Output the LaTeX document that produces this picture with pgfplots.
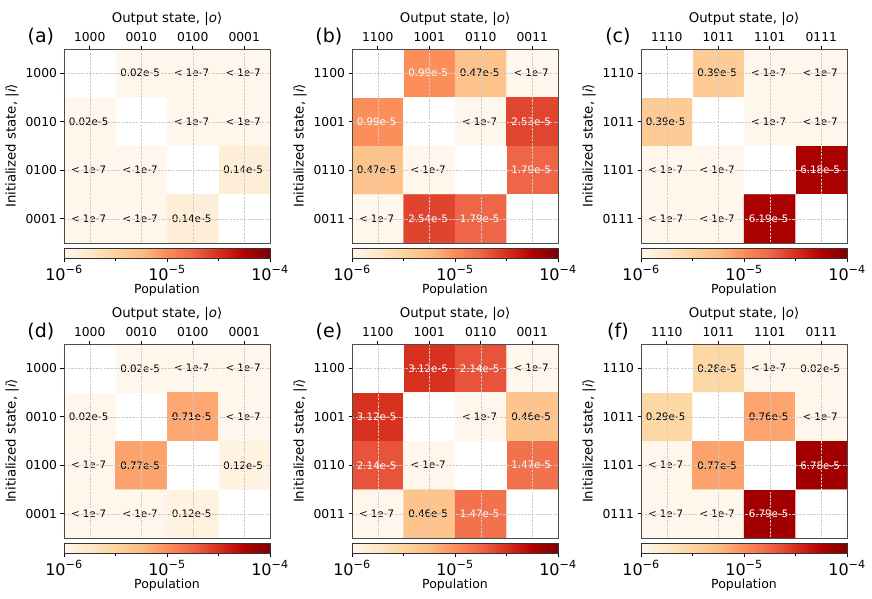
\documentclass[border=0pt]{standalone}
\usepackage{fontspec}
\setmainfont{DejaVu Sans}
\usepackage{pgfplots}
\pgfplotsset{compat=1.18}
\usepackage{pgfplotstable}

% columns: x = output state, y = initialized state, v = population,
% blk / wht = cell text set in black / white
\pgfplotstableread[col sep=comma]{
x,y,v,blk,wht
0,0,1e-7,,
1,0,0.02e-5,0.02e-5,
2,0,1e-7,< 1e-7,
3,0,1e-7,< 1e-7,
0,1,0.02e-5,0.02e-5,
1,1,1e-7,,
2,1,1e-7,< 1e-7,
3,1,1e-7,< 1e-7,
0,2,1e-7,< 1e-7,
1,2,1e-7,< 1e-7,
2,2,1e-7,,
3,2,0.14e-5,0.14e-5,
0,3,1e-7,< 1e-7,
1,3,1e-7,< 1e-7,
2,3,0.14e-5,0.14e-5,
3,3,1e-7,,
}\tabA

\pgfplotstableread[col sep=comma]{
x,y,v,blk,wht
0,0,1e-7,,
1,0,0.99e-5,,0.99e-5
2,0,0.47e-5,0.47e-5,
3,0,1e-7,< 1e-7,
0,1,0.99e-5,,0.99e-5
1,1,1e-7,,
2,1,1e-7,< 1e-7,
3,1,2.53e-5,,2.53e-5
0,2,0.47e-5,0.47e-5,
1,2,1e-7,< 1e-7,
2,2,1e-7,,
3,2,1.79e-5,,1.79e-5
0,3,1e-7,< 1e-7,
1,3,2.54e-5,,2.54e-5
2,3,1.79e-5,,1.79e-5
3,3,1e-7,,
}\tabB

\pgfplotstableread[col sep=comma]{
x,y,v,blk,wht
0,0,1e-7,,
1,0,0.39e-5,0.39e-5,
2,0,1e-7,< 1e-7,
3,0,1e-7,< 1e-7,
0,1,0.39e-5,0.39e-5,
1,1,1e-7,,
2,1,1e-7,< 1e-7,
3,1,1e-7,< 1e-7,
0,2,1e-7,< 1e-7,
1,2,1e-7,< 1e-7,
2,2,1e-7,,
3,2,6.18e-5,,6.18e-5
0,3,1e-7,< 1e-7,
1,3,1e-7,< 1e-7,
2,3,6.19e-5,,6.19e-5
3,3,1e-7,,
}\tabC

\pgfplotstableread[col sep=comma]{
x,y,v,blk,wht
0,0,1e-7,,
1,0,0.02e-5,0.02e-5,
2,0,1e-7,< 1e-7,
3,0,1e-7,< 1e-7,
0,1,0.02e-5,0.02e-5,
1,1,1e-7,,
2,1,0.71e-5,0.71e-5,
3,1,1e-7,< 1e-7,
0,2,1e-7,< 1e-7,
1,2,0.77e-5,0.77e-5,
2,2,1e-7,,
3,2,0.12e-5,0.12e-5,
0,3,1e-7,< 1e-7,
1,3,1e-7,< 1e-7,
2,3,0.12e-5,0.12e-5,
3,3,1e-7,,
}\tabD

\pgfplotstableread[col sep=comma]{
x,y,v,blk,wht
0,0,1e-7,,
1,0,3.12e-5,,3.12e-5
2,0,2.14e-5,,2.14e-5
3,0,1e-7,< 1e-7,
0,1,3.12e-5,,3.12e-5
1,1,1e-7,,
2,1,1e-7,< 1e-7,
3,1,0.46e-5,0.46e-5,
0,2,2.14e-5,,2.14e-5
1,2,1e-7,< 1e-7,
2,2,1e-7,,
3,2,1.47e-5,,1.47e-5
0,3,1e-7,< 1e-7,
1,3,0.46e-5,0.46e-5,
2,3,1.47e-5,,1.47e-5
3,3,1e-7,,
}\tabE

\pgfplotstableread[col sep=comma]{
x,y,v,blk,wht
0,0,1e-7,,
1,0,0.28e-5,0.28e-5,
2,0,1e-7,< 1e-7,
3,0,0.02e-5,0.02e-5,
0,1,0.29e-5,0.29e-5,
1,1,1e-7,,
2,1,0.76e-5,0.76e-5,
3,1,1e-7,< 1e-7,
0,2,1e-7,< 1e-7,
1,2,0.77e-5,0.77e-5,
2,2,1e-7,,
3,2,6.78e-5,,6.78e-5
0,3,1e-7,< 1e-7,
1,3,1e-7,< 1e-7,
2,3,6.79e-5,,6.79e-5
3,3,1e-7,,
}\tabF

\pgfplotsset{
  colormap={orrd}{rgb255=(255,247,236) rgb255=(254,232,200) rgb255=(253,212,158)
    rgb255=(253,187,132) rgb255=(252,141,89) rgb255=(239,101,72)
    rgb255=(215,48,31) rgb255=(179,0,0) rgb255=(127,0,0)},
  celltext/.style={only marks, mark=none, point meta=explicit symbolic,
    nodes near coords, nodes near coords align=center,
    every node near coord/.append style={text=#1, font=\fontsize{10.3}{11}\selectfont, xshift=-1.2pt}},
  heat/.style={
    scale only axis, width=206pt, height=194pt, anchor=north west,
    clip mode=individual,
    xmin=-0.5, xmax=3.5, ymin=-0.5, ymax=3.5, y dir=reverse,
    xtick={0,1,2,3}, ytick={0,1,2,3},
    xtick pos=right, xticklabel pos=right, ytick pos=left,
    tick align=outside, major tick length=3.5pt,
    tick style={black, line width=0.6pt},
    grid=major,
    grid style={dash pattern=on 2.4pt off 1.2pt, black!20, line width=0.4pt},
    axis on top,
    axis line style={black!70, line width=0.8pt},
    ticklabel style={font=\fontsize{12.3}{13}\selectfont},
    xlabel={Output state, |\textit{o}⟩},
    ylabel={Initialized state, |\textit{i}⟩},
    label style={font=\fontsize{13.3}{14}\selectfont},
    colormap name=orrd, point meta min=-6, point meta max=-4,
    colorbar horizontal,
    colorbar style={
      at={(parent axis.south west)}, anchor=north west, yshift=3pt,
      scale only axis, width=206pt, height=10pt,
      xtick={-6,-5,-4}, minor xtick={-5.5,-4.5},
      xticklabels={10\textsuperscript{−6},10\textsuperscript{−5},10\textsuperscript{−4}},
      xtick pos=left, xticklabel pos=left, ytick=\empty,
      tick align=outside, major tick length=3.5pt, minor tick length=2pt,
      tick style={black, line width=0.6pt},
      axis line style={black!80, line width=0.8pt},
      xticklabel style={font=\fontsize{16}{16}\selectfont},
      xlabel={Population},
      xlabel style={font=\fontsize{12.5}{13}\selectfont, yshift=3pt},
    },
  },
}

\newcommand\heatpanel[5]{%
\begin{axis}[heat, at={(#1pt,-#2pt)}, xticklabels={#4}, yticklabels={#4}]
\addplot[matrix plot*, mesh/cols=4, point meta=explicit]
  table[x=x, y=y, meta expr={log10(\thisrow{v})}] {#3};
\addplot[fill=white, draw=none] coordinates {(-0.5,-0.5) (0.5,-0.5) (0.5,0.5) (-0.5,0.5)} -- cycle;
\addplot[fill=white, draw=none] coordinates {(0.5,0.5) (1.5,0.5) (1.5,1.5) (0.5,1.5)} -- cycle;
\addplot[fill=white, draw=none] coordinates {(1.5,1.5) (2.5,1.5) (2.5,2.5) (1.5,2.5)} -- cycle;
\addplot[fill=white, draw=none] coordinates {(2.5,2.5) (3.5,2.5) (3.5,3.5) (2.5,3.5)} -- cycle;
\addplot[celltext=black] table[x=x, y=y, meta=blk] {#3};
\addplot[celltext=white] table[x=x, y=y, meta=wht] {#3};
\node[font=\fontsize{19}{19}\selectfont] at (axis description cs:-0.112,1.064) {(#5)};
\end{axis}}

\begin{document}
\begin{tikzpicture}
\path (0,0) rectangle (872pt,-599pt);
\heatpanel{64}{49}{\tabA}{1000,0010,0100,0001}{a}
\heatpanel{352}{49}{\tabB}{1100,1001,0110,0011}{b}
\heatpanel{641}{49}{\tabC}{1110,1011,1101,0111}{c}
\heatpanel{64}{344}{\tabD}{1000,0010,0100,0001}{d}
\heatpanel{352}{344}{\tabE}{1100,1001,0110,0011}{e}
\heatpanel{641}{344}{\tabF}{1110,1011,1101,0111}{f}
\end{tikzpicture}
\end{document}
